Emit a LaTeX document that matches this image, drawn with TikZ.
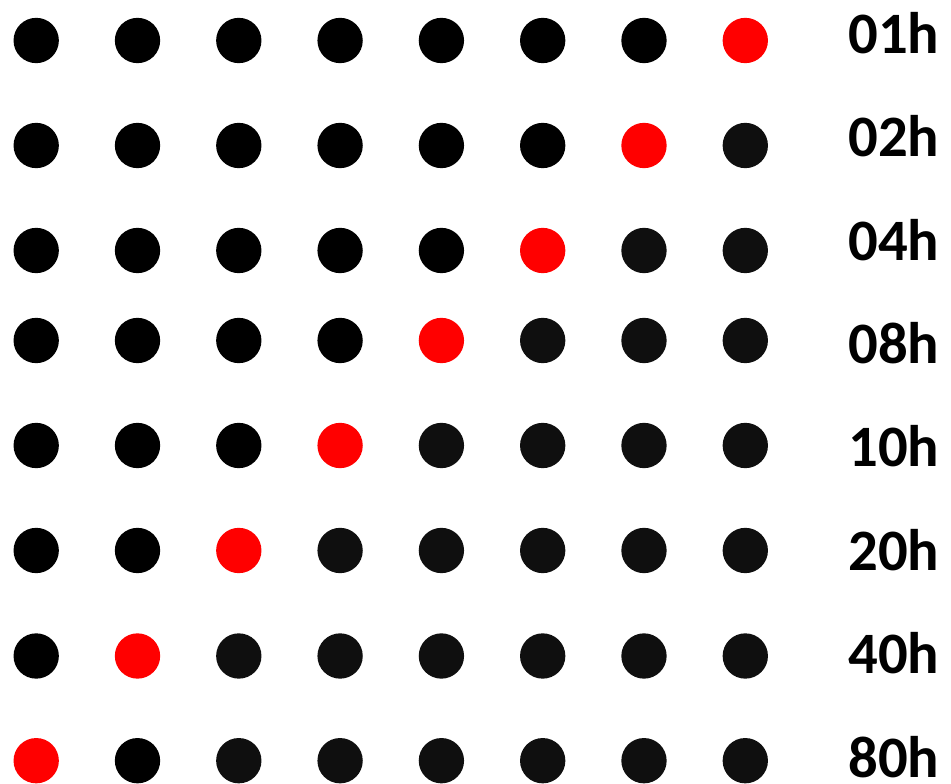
\documentclass[tikz,border=0pt]{standalone}
\usepackage{fontspec}
\setmainfont{Carlito}
\usepackage{xcolor}
\usepackage{tikz}
\definecolor{abu}{HTML}{0F0F0F}
\tikzset{
  titik/.style={circle, draw=none, inner sep=0pt, minimum size=34pt},
  labelh/.style={inner sep=0pt, anchor=base west, font=\fontsize{44}{44}\selectfont\bfseries}
}

\begin{document}
\begin{tikzpicture}[x=0.75pt, y=-0.75pt]
  \useasboundingbox (0,0) rectangle (951,784);
  % baris: nomor / y titik / label / baseline / kolom abu pertama
  \foreach \r/\y/\lbl/\by/\g in {1/40.5/01h/53.3/9, 2/145.5/02h/156.7/8,
      3/250.5/04h/260.1/7, 4/340.5/08h/363.5/6, 5/445.5/10h/466.9/5,
      6/550.5/20h/570.3/4, 7/656/40h/673.7/3, 8/760.7/80h/777.1/3}{
    \pgfmathtruncatemacro{\m}{9-\r}
    \foreach \c in {1,...,8}{
      \ifnum\c=\m \def\warna{red}\else
        \ifnum\c<\g \def\warna{black}\else \def\warna{abu}\fi\fi
      \node[titik, fill=\warna] (t\r\c) at ({36.2+101.3*(\c-1)},\y) {};
    }
    \node[labelh] (h\r) at (848,\by) {\lbl};
  }
\end{tikzpicture}
\end{document}
